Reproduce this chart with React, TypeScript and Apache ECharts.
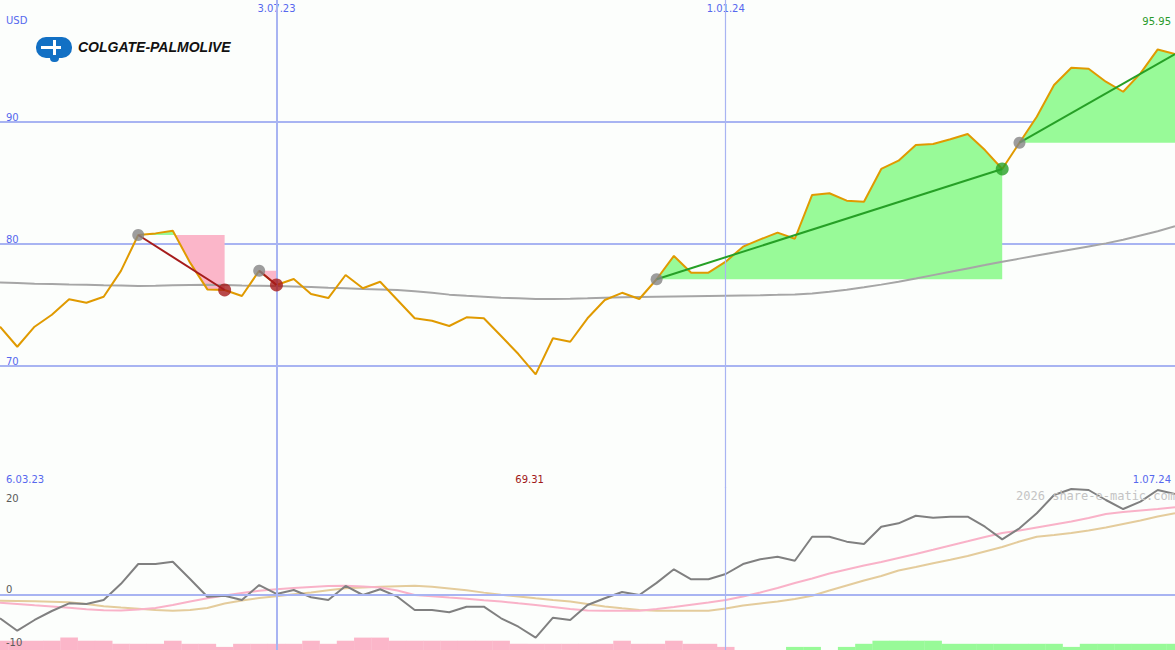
import React, { useEffect, useRef } from "react";
import * as echarts from "echarts";

// ---------- data (one value per week) ----------
const price = [
  73.22, 71.58, 73.22, 74.2, 75.47, 75.19, 75.68, 77.8, 80.74, 80.87,
  81.09, 78.47, 76.28, 76.23, 75.74, 77.81, 76.64, 77.13, 75.9, 75.57,
  77.46, 76.37, 76.91, 75.41, 73.91, 73.71, 73.28, 73.99, 73.91, 72.46,
  70.98, 69.31, 72.27, 71.99, 73.91, 75.41, 76.0, 75.49, 77.11, 79.02,
  77.65, 77.65, 78.55, 79.78, 80.38, 80.93, 80.43, 84.02, 84.16, 83.55,
  83.47, 86.15, 86.83, 88.11, 88.2, 88.58, 89.02, 87.7, 86.15, 88.3,
  90.43, 93.03, 94.45, 94.37, 93.3, 92.48, 93.99, 95.95, 95.57,
];
const movingAvg = [
  76.85, 76.8, 76.75, 76.72, 76.68, 76.65, 76.62, 76.6, 76.55, 76.58,
  76.62, 76.64, 76.65, 76.64, 76.6, 76.58, 76.56, 76.52, 76.47, 76.42,
  76.38, 76.32, 76.27, 76.22, 76.12, 76.0, 75.85, 75.75, 75.68, 75.6,
  75.55, 75.5, 75.5, 75.52, 75.55, 75.6, 75.63, 75.66, 75.68, 75.7,
  75.72, 75.74, 75.76, 75.78, 75.8, 75.83, 75.87, 75.95, 76.08, 76.25,
  76.45, 76.67, 76.9, 77.17, 77.45, 77.72, 78.0, 78.27, 78.55, 78.8,
  79.05, 79.3, 79.55, 79.8, 80.05, 80.35, 80.7, 81.05, 81.45,
];
const oscMain = [
  -4.8, -7.36, -5.15, -3.3, -1.71, -1.86, -1.03, 2.3, 6.39, 6.39,
  6.87, 3.3, -0.35, -0.14, -1.03, 2.06, 0.21, 1.03, -0.47, -1.03,
  1.86, 0, 1.18, -0.35, -3.09, -3.09, -3.57, -2.41, -2.41, -4.8,
  -6.54, -8.8, -4.68, -5.15, -2.06, -0.68, 0.62, 0, 2.5, 5.3,
  3.24, 3.24, 4.33, 6.39, 7.36, 7.9, 7.07, 12.02, 12.02, 11.0,
  10.52, 14.08, 14.78, 16.35, 15.94, 16.14, 16.14, 14.08, 11.48, 13.75,
  16.85, 20.62, 21.86, 21.65, 19.59, 17.73, 19.24, 21.65, 20.82,
];
const oscPink = [
  -1.59, -1.86, -2.12, -2.37, -2.64, -2.93, -3.15, -3.2, -2.99, -2.68,
  -2.06, -1.34, -0.66, -0.1, 0.41, 0.89, 1.2, 1.44, 1.67, 1.86,
  1.92, 1.77, 1.55, 0.93, 0, -0.25, -0.52, -0.78, -1.07, -1.34,
  -1.71, -2.06, -2.47, -2.89, -3.2, -3.26, -3.24, -3.24, -2.89, -2.45,
  -2.0, -1.55, -1.03, -0.31, 0.52, 1.44, 2.47, 3.4, 4.43, 5.26,
  6.08, 6.8, 7.63, 8.45, 9.32, 10.21, 11.07, 11.96, 12.78, 13.3,
  13.92, 14.54, 15.15, 15.88, 16.7, 17.11, 17.42, 17.73, 18.08,
];
const oscTan = [
  -1.18, -1.24, -1.3, -1.4, -1.5, -1.86, -2.31, -2.58, -2.82, -3.09,
  -3.24, -3.09, -2.68, -1.75, -1.13, -0.62, -0.27, 0.14, 0.52, 0.97,
  1.4, 1.55, 1.69, 1.81, 1.9, 1.69, 1.36, 0.97, 0.49, 0.04,
  -0.31, -0.68, -1.03, -1.34, -1.86, -2.37, -2.74, -3.09, -3.24, -3.24,
  -3.24, -3.24, -2.78, -2.16, -1.75, -1.34, -0.82, -0.16, 0.93, 1.96,
  2.99, 3.92, 5.05, 5.77, 6.54, 7.26, 8.04, 8.97, 9.9, 11.03,
  12.02, 12.37, 12.78, 13.3, 13.92, 14.64, 15.36, 16.19, 16.85,
];
const histogram = [
  -3, -3, -3, -3, -4, -3, -3, -2, -2, -2,
  -3, -2, -2, -1, -2, -2, -2, -2, -3, -2,
  -3, -4, -4, -3, -3, -3, -3, -3, -3, -3,
  -2, -2, -2, -2, -2, -2, -3, -2, -2, -3,
  -2, -2, -1, 0, 0, 0, 1, 1, 0, 1,
  2, 3, 3, 3, 3, 2, 2, 2, 2, 2,
  2, 2, 1, 2, 2, 2, 2, 2, 2,
];
const dateTickIndex = [16, 42];
const dateTickLabels = ["3.07.23", "1.01.24"];
const rangeLabels = ["6.03.23", "1.07.24"];
const priceTicks = [70, 80, 90];
const oscTicks = [-10, 0, 20];
const tradeEntry = [8, 15, 38, 59];
const tradeExit = [13, 16, 58, 68];
const tradeResult = ["loss", "loss", "win", "open"];
const currency = "USD";
const companyName = "COLGATE-PALMOLIVE";
const watermark = "2026 share-e-matic.com";

// ---------- styles ----------
const BG = "#fcfefc";
const BLUE_TEXT = "#5668ee";
const GRID_BLUE = "#a8b4f2";
const BORDER_BLUE = "#7886ea";
const PRICE_C = "#e09a00";
const MA_C = "#a6a6a6";
const OSC_C = "#808080";
const PINK_C = "#f9b2c8";
const TAN_C = "#e4cc9c";
const FILL_GREEN = "#98fa98";
const FILL_PINK = "#fbb6c9";
const LOSS_C = "#a61c1c";
const WIN_C = "#26a026";
const MARK_GRAY = "#858585";
const SANS = "'DejaVu Sans', sans-serif";
const MONO = "'DejaVu Sans Mono', monospace";

const pairs = (arr: number[]) => arr.map((v, i) => [i, v]);

function fillPolygons(entry: number, exit: number) {
  const level = price[entry];
  const polys: { pts: number[][]; up: boolean }[] = [];
  let cur: number[][] = [[entry, level]];
  let sum = 0;
  for (let i = entry; i <= exit; i++) {
    const d = price[i] - level;
    if (i > entry) {
      const dp = price[i - 1] - level;
      if (dp * d < 0) {
        const xc = i - 1 + dp / (dp - d);
        cur.push([xc, level]);
        polys.push({ pts: cur, up: dp > 0 });
        cur = [[xc, level]];
        sum = 0;
      }
    }
    cur.push([i, price[i]]);
    sum += d;
  }
  cur.push([exit, level]);
  polys.push({ pts: cur, up: sum >= 0 });
  return polys;
}

function buildOption() {
  const fillSeries = tradeEntry.map((e, k) => {
    const polys = fillPolygons(e, tradeExit[k]);
    return {
      type: "custom",
      xAxisIndex: 0,
      yAxisIndex: 0,
      z: 1,
      silent: true,
      data: [[e, price[e]]],
      encode: { x: 0, y: 1 },
      renderItem: (_p: any, api: any) => ({
        type: "group",
        children: polys.map((p) => ({
          type: "polygon",
          shape: { points: p.pts.map((pt) => api.coord(pt)) },
          style: { fill: p.up ? FILL_GREEN : FILL_PINK },
        })),
      }),
    };
  });

  const tradeLines = tradeEntry.map((e, k) => ({
    type: "line",
    xAxisIndex: 0,
    yAxisIndex: 0,
    z: 5,
    symbol: "none",
    silent: true,
    lineStyle: { color: tradeResult[k] === "loss" ? LOSS_C : WIN_C, width: 2 },
    data: [
      [e, price[e]],
      [tradeExit[k], price[tradeExit[k]]],
    ],
  }));

  const vLines = () =>
    dateTickIndex.map((x, k) => ({
      xAxis: x,
      lineStyle: { color: GRID_BLUE, width: k === 0 ? 2 : 1.2, type: "solid" },
    }));

  return {
    animation: false,
    backgroundColor: BG,
    grid: [
      { left: 0, right: 0, top: 0, height: 488 },
      { left: 0, right: 0, top: 487, height: 163 },
    ],
    xAxis: [
      {
        gridIndex: 0,
        type: "value",
        min: 0,
        max: price.length - 1,
        position: "top",
        axisLine: { show: false },
        axisTick: { show: false },
        splitLine: { show: false },
        axisLabel: {
          inside: true,
          margin: 3,
          customValues: dateTickIndex,
          formatter: (v: number) => {
            const k = dateTickIndex.indexOf(v);
            return k >= 0 ? dateTickLabels[k] : "";
          },
          color: BLUE_TEXT,
          fontFamily: SANS,
          fontSize: 10,
        },
      },
      {
        gridIndex: 1,
        type: "value",
        min: 0,
        max: price.length - 1,
        position: "top",
        axisLine: { show: true, lineStyle: { color: BORDER_BLUE, width: 2 } },
        axisTick: { show: false },
        axisLabel: { show: false },
        splitLine: { show: false },
      },
    ],
    yAxis: [
      {
        gridIndex: 0,
        type: "value",
        min: 60,
        max: 100,
        interval: 10,
        axisLine: { show: false },
        axisTick: { show: false },
        splitLine: {
          show: true,
          showMinLine: false,
          showMaxLine: false,
          lineStyle: { color: GRID_BLUE, width: 2 },
        },
        axisLabel: {
          inside: true,
          margin: 6,
          interval: 0,
          verticalAlign: "bottom",
          formatter: (v: number) => (priceTicks.indexOf(v) >= 0 ? String(v) : ""),
          color: BLUE_TEXT,
          fontFamily: SANS,
          fontSize: 10,
        },
      },
      {
        gridIndex: 1,
        type: "value",
        z: 10,
        min: -11.34,
        max: 22.27,
        axisLine: { show: false },
        axisTick: { show: false },
        splitLine: { show: false },
        axisLabel: {
          inside: true,
          margin: 6,
          customValues: oscTicks,
          formatter: (v: number) =>
            v === 0 ? "{up|0}" : v < 0 ? "{dn|" + v + "}" : String(v),
          rich: {
            up: { padding: [0, 0, 12, 0], color: "#5a5a5a", fontFamily: SANS, fontSize: 10 },
            dn: { padding: [0, 0, 3, 0], color: "#5a5a5a", fontFamily: SANS, fontSize: 10 },
          },
          color: "#5a5a5a",
          fontFamily: SANS,
          fontSize: 10,
        },
      },
      {
        gridIndex: 1,
        type: "value",
        min: 0,
        max: 52.6,
        show: false,
      },
    ],
    series: [
      ...fillSeries,
      {
        type: "line",
        name: "MA",
        xAxisIndex: 0,
        yAxisIndex: 0,
        z: 3,
        symbol: "none",
        silent: true,
        lineStyle: { color: MA_C, width: 2 },
        data: pairs(movingAvg),
        markLine: {
          silent: true,
          symbol: ["none", "none"],
          label: { show: false },
          data: vLines(),
        },
      },
      {
        type: "line",
        name: "Price",
        xAxisIndex: 0,
        yAxisIndex: 0,
        z: 4,
        symbol: "none",
        silent: true,
        lineStyle: { color: PRICE_C, width: 2 },
        data: pairs(price),
      },
      ...tradeLines,
      {
        type: "scatter",
        xAxisIndex: 0,
        yAxisIndex: 0,
        z: 6,
        silent: true,
        symbolSize: 12,
        itemStyle: { color: MARK_GRAY },
        data: tradeEntry.map((e) => [e, price[e]]),
      },
      {
        type: "scatter",
        xAxisIndex: 0,
        yAxisIndex: 0,
        z: 6,
        silent: true,
        symbolSize: 13,
        data: tradeExit
          .map((x, k) => ({
            value: [x, price[x]],
            itemStyle: { color: tradeResult[k] === "loss" ? LOSS_C : WIN_C },
            open: tradeResult[k] === "open",
          }))
          .filter((d) => !d.open)
          .map(({ value, itemStyle }) => ({ value, itemStyle })),
      },
      {
        type: "bar",
        xAxisIndex: 1,
        yAxisIndex: 2,
        z: 1,
        silent: true,
        barWidth: 17.6,
        data: histogram.map((v, i) => ({
          value: [i, Math.abs(v)],
          itemStyle: { color: v < 0 ? FILL_PINK : FILL_GREEN },
        })),
      },
      {
        type: "line",
        xAxisIndex: 1,
        yAxisIndex: 1,
        z: 2,
        symbol: "none",
        silent: true,
        lineStyle: { color: TAN_C, width: 2 },
        data: pairs(oscTan),
        markLine: {
          silent: true,
          symbol: ["none", "none"],
          label: { show: false },
          data: [
            { yAxis: 0, lineStyle: { color: GRID_BLUE, width: 2, type: "solid" } },
            ...vLines(),
          ],
        },
      },
      {
        type: "line",
        xAxisIndex: 1,
        yAxisIndex: 1,
        z: 3,
        symbol: "none",
        silent: true,
        lineStyle: { color: PINK_C, width: 2 },
        data: pairs(oscPink),
      },
      {
        type: "line",
        xAxisIndex: 1,
        yAxisIndex: 1,
        z: 4,
        symbol: "none",
        silent: true,
        lineStyle: { color: OSC_C, width: 2 },
        data: pairs(oscMain),
      },
    ],
  };
}

function txt(id: string, text: string, x: number, y: number, fill: string, align: string, font: string) {
  return {
    id,
    type: "text",
    x,
    y,
    z: 100,
    silent: true,
    style: {
      text,
      fill,
      font,
      align,
      textAlign: align,
      verticalAlign: "middle",
      textVerticalAlign: "middle",
    },
  };
}

function buildGraphics(minX: number) {
  const minVal = Math.min(...price);
  const maxVal = Math.max(...price);
  const LOGO_BLUE = "#1270c4";
  return [
    txt("usd", currency, 6, 20, BLUE_TEXT, "left", `10px ${SANS}`),
    txt("max", maxVal.toFixed(2), 1171, 21, "#2a9a2a", "right", `10px ${SANS}`),
    txt("start", rangeLabels[0], 6, 479, BLUE_TEXT, "left", `10px ${SANS}`),
    txt("end", rangeLabels[1], 1171, 479, BLUE_TEXT, "right", `10px ${SANS}`),
    txt("min", minVal.toFixed(2), minX - 6, 479, "#a01818", "center", `10px ${SANS}`),
    txt("wm", watermark, 1175, 496, "#c4c4c4", "right", `12px ${MONO}`),
    {
      id: "logoBody",
      type: "rect",
      z: 100,
      silent: true,
      shape: { x: 36, y: 37, width: 36, height: 21, r: 10 },
      style: { fill: LOGO_BLUE },
    },
    {
      id: "logoStem",
      type: "rect",
      z: 100,
      silent: true,
      shape: { x: 50, y: 50, width: 9, height: 12, r: [0, 0, 4, 4] },
      style: { fill: LOGO_BLUE },
    },
    {
      id: "logoCut1",
      type: "rect",
      z: 101,
      silent: true,
      shape: { x: 41, y: 46, width: 20, height: 3 },
      style: { fill: "#ffffff" },
    },
    {
      id: "logoCut2",
      type: "rect",
      z: 101,
      silent: true,
      shape: { x: 53, y: 40, width: 3, height: 15 },
      style: { fill: "#ffffff" },
    },
    txt("company", companyName, 78, 47, "#111111", "left", `italic bold 14px 'Liberation Sans', Arial, sans-serif`),
  ];
}

export default function App() {
  const ref = useRef<HTMLDivElement>(null);
  useEffect(() => {
    if (!ref.current) return;
    const chart = echarts.init(ref.current, null, { renderer: "svg" });
    chart.setOption(buildOption() as any);
    const minIdx = price.indexOf(Math.min(...price));
    const mx = chart.convertToPixel({ xAxisIndex: 0 } as any, minIdx) as unknown as number;
    chart.setOption({ graphic: { elements: buildGraphics(mx) } } as any);
    return () => chart.dispose();
  }, []);
  return (
    <div
      ref={ref}
      style={{ position: "fixed", left: 0, top: 0, width: 1175, height: 650 }}
    />
  );
}
